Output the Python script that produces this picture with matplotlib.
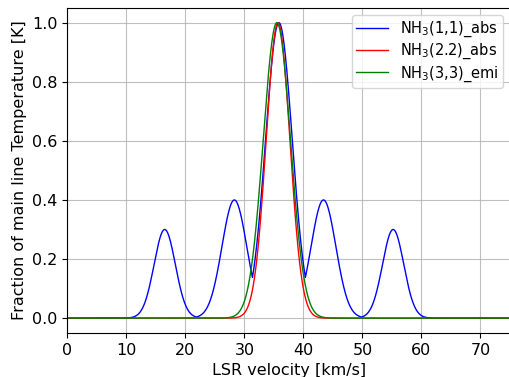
import numpy as np
import matplotlib
matplotlib.use('Agg')
import matplotlib.pyplot as plt

# Gaussian components (center km/s, peak, sigma km/s)
nh3_11_centers = [16.5, 28.3, 35.85, 43.4, 55.2]
nh3_11_peaks = [0.30, 0.40, 1.00, 0.40, 0.30]
nh3_11_sigmas = [1.8, 2.1, 2.25, 2.1, 1.8]

nh3_22_center, nh3_22_peak, nh3_22_sigma = 35.7, 1.0, 2.0
nh3_33_center, nh3_33_peak, nh3_33_sigma = 35.5, 1.0, 2.3

labels = ['NH$_3$(1,1)_abs', 'NH$_3$(2.2)_abs', 'NH$_3$(3,3)_emi']

v = np.linspace(0, 75, 1500)


def gauss(x, c, a, s):
    return a * np.exp(-(x - c) ** 2 / (2 * s ** 2))


# blue curve shows the envelope of the hyperfine groups
y11 = np.max([gauss(v, c, a, s) for c, a, s in
              zip(nh3_11_centers, nh3_11_peaks, nh3_11_sigmas)], axis=0)
y22 = gauss(v, nh3_22_center, nh3_22_peak, nh3_22_sigma)
y33 = gauss(v, nh3_33_center, nh3_33_peak, nh3_33_sigma)

fig, ax = plt.subplots(figsize=(5.1, 3.77), dpi=100)
ax.plot(v, y11, color='blue', lw=1, label=labels[0])
ax.plot(v, y22, color='red', lw=1, label=labels[1])
ax.plot(v, y33, color='green', lw=1, label=labels[2])

ax.set_xlim(0, 75)
ax.set_ylim(-0.05, 1.05)
ax.grid(True, color='#b0b0b0', lw=0.8, alpha=0.8)
ax.tick_params(labelsize=11.5)
ax.set_xlabel('LSR velocity [km/s]', fontsize=11.5)
ax.set_ylabel('Fraction of main line Temperature [K]', fontsize=11.5)
ax.legend(loc='upper right', fontsize=10.5, labelspacing=0.2,
          borderpad=0.3, handlelength=2.2)

fig.subplots_adjust(left=0.132, right=1.0, bottom=0.117, top=0.979)
plt.savefig('out.png', dpi=100)
